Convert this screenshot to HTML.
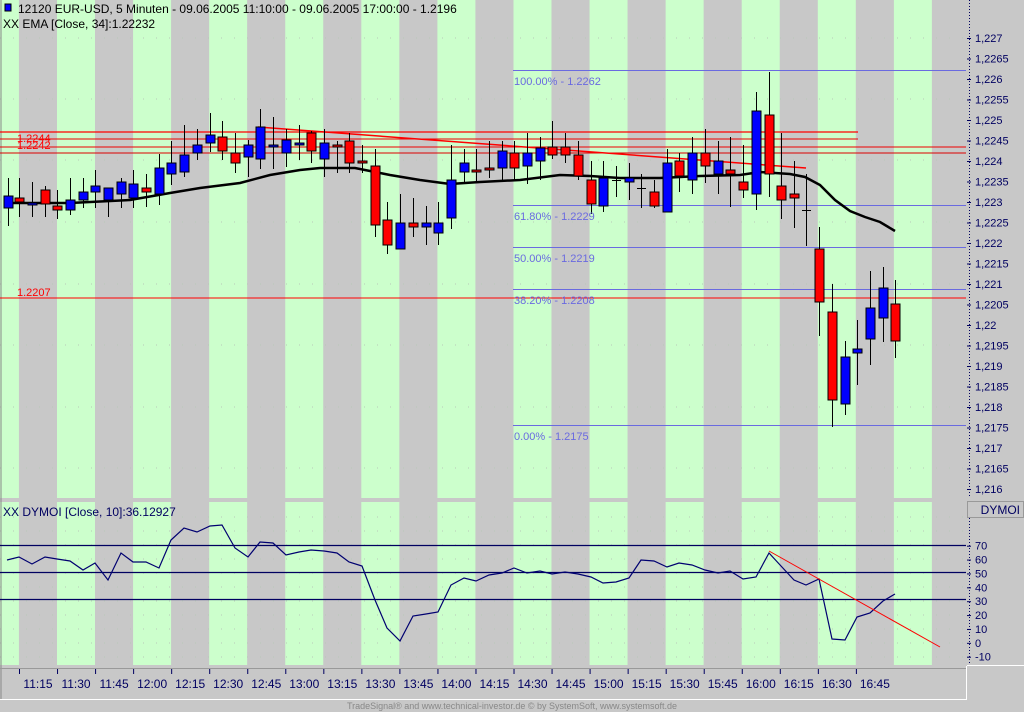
<!DOCTYPE html>
<html><head><meta charset="utf-8"><style>
html,body{margin:0;padding:0;background:#c8c8c8;}
svg{display:block;font-family:"Liberation Sans",sans-serif;}
</style></head><body>
<svg id="s" width="1024" height="712" xmlns="http://www.w3.org/2000/svg">
<rect x="0" y="0" width="1024" height="712" fill="#c8c8c8"/>
<g id="stripes"></g>
<g id="lines"></g>
<g id="cand"></g>
<g id="txt"></g>
</svg>
<script>
const NS="http://www.w3.org/2000/svg";
function el(p,t,a,txt){const e=document.createElementNS(NS,t);for(const k in a)e.setAttribute(k,a[k]);if(txt!==undefined)e.textContent=txt;document.getElementById(p).appendChild(e);return e;}
// stripes
for(let k=-1;k<13;k++){
  let x0=57+76.08*k, x1=x0+38;
  x0=Math.max(0,x0); x1=Math.min(966,x1);
  if(x1<=x0) continue;
  el('stripes','rect',{x:x0,y:0,width:x1-x0,height:498,fill:'#ccffcc'});
  el('stripes','rect',{x:x0,y:502,width:x1-x0,height:163,fill:'#ccffcc'});
}
// dotted grid
for(const y of [38,99,160,222,284,345,407,468]) el('stripes','line',{x1:0,y1:y,x2:966,y2:y,stroke:'#b8c8b8','stroke-dasharray':'1 12'});
for(const y of [517,531,545,559,573,587,601,615,629,643,657]) el('stripes','line',{x1:0,y1:y,x2:966,y2:y,stroke:'#b8c8b8','stroke-dasharray':'1 12'});
// separators
el('lines','rect',{x:0,y:498,width:966,height:4,fill:'#c8c8c8'});
el('lines','line',{x1:1,y1:0,x2:1,y2:700,stroke:'#888'});
// fib lines
const fc='#6a6ae0';
[[70,'100.00% - 1.2262'],[205,'61.80% - 1.2229'],[247,'50.00% - 1.2219'],[289,'38.20% - 1.2208'],[425,'0.00% - 1.2175']].forEach(([y,t])=>{
  el('lines','line',{x1:513,y1:y+.5,x2:966,y2:y+.5,stroke:fc});
  el('txt','text',{x:514,y:y+15,'font-size':11,fill:fc},t);
});
// red lines
el('lines','line',{x1:0,y1:132,x2:858,y2:132,stroke:'#f00','stroke-width':1.3});
el('lines','line',{x1:0,y1:139,x2:858,y2:139,stroke:'#e00'});
el('lines','line',{x1:0,y1:147,x2:966,y2:147,stroke:'#e00'});
el('lines','line',{x1:0,y1:153,x2:966,y2:153,stroke:'#d00'});
el('lines','line',{x1:0,y1:298,x2:966,y2:298,stroke:'#f00'});
el('lines','line',{x1:258,y1:127,x2:806,y2:168,stroke:'#f00','stroke-width':1.5});
el('txt','text',{x:17,y:142,'font-size':11,fill:'#f00'},'1.2244');
el('txt','text',{x:17,y:149,'font-size':11,fill:'#f00'},'1.2242');
el('txt','text',{x:17,y:296,'font-size':11,fill:'#f00'},'1.2207');
// EMA
el('lines','polyline',{points:'8,203 70,203 130,200 170,193 200,188 240,183 270,175 300,170 320,168 355,168 375,172 390,175 420,180 450,184 480,182 520,180 560,175 590,176 620,178 660,178 700,176 740,175 760,172 790,174 805,177 820,185 835,200 850,211 865,217 880,222 895,231',fill:'none',stroke:'#000','stroke-width':2.5});
// candles [x, wickTop, wickBot, bodyTop, bodyBot, color]
const C=[[8,178,226,196,208,'b'],[19,178,217,198,202,'r'],[32,182,217,203,205,'b'],[45,186,217,190,204,'r'],[57,190,219,206,210,'r'],[70,178,215,200,210,'b'],[83,178,208,192,200,'b'],[95,170,208,186,192,'b'],[108,188,217,188,200,'b'],[121,178,208,182,194,'b'],[133,170,208,184,198,'b'],[146,174,207,188,192,'r'],[159,154,205,168,194,'b'],[171,141,185,163,174,'b'],[184,125,177,155,172,'b'],[197,129,160,145,153,'b'],[210,113,152,135,143,'b'],[222,121,160,137,151,'r'],[235,133,173,153,163,'r'],[248,140,177,145,157,'b'],
[260,109,169,127,159,'b'],[273,117,169,145,147,'b'],[286,129,167,140,153,'b'],[299,125,160,143,145,'b'],[311,131,163,133,151,'r'],[324,129,177,143,159,'b'],[337,141,173,145,147,'r'],[349,133,173,141,163,'r'],[362,145,173,161,163,'r'],[375,149,237,166,225,'r'],[387,202,254,220,245,'r'],[400,194,249,223,249,'b'],[413,198,237,223,227,'r'],[426,206,245,223,227,'b'],[438,202,245,223,233,'b'],[451,145,229,180,218,'b'],[464,149,183,163,172,'b'],[476,149,182,170,172,'r'],[489,141,178,168,170,'r'],
[502,141,181,151,168,'b'],[514,141,181,153,168,'r'],[527,133,184,153,166,'b'],[540,137,180,148,161,'b'],[552,121,159,147,155,'r'],[565,133,163,147,155,'r'],[578,141,180,155,176,'r'],[591,161,214,180,204,'r'],[603,161,212,178,206,'b'],[616,166,197,180,180,'d'],[629,163,200,178,182,'b'],[641,174,208,188,188,'d'],[654,180,208,192,206,'r'],[667,149,212,163,212,'b'],[679,153,192,161,176,'r'],[692,137,194,153,180,'b'],[705,129,183,153,166,'r'],[718,141,194,161,174,'b'],
[730,137,207,170,174,'r'],[743,145,198,182,190,'r'],[756,92,210,111,194,'b'],[769,72,197,115,174,'r'],[781,133,219,186,200,'r'],[794,161,228,194,198,'r'],[806,174,246,210,210,'d'],[819,227,336,249,302,'r'],[832,284,427,312,400,'r'],[845,341,415,357,404,'b'],[857,320,385,349,353,'b'],[870,271,365,308,339,'b'],[883,267,342,288,318,'b'],[895,280,358,304,341,'r']];
C.forEach(([x,wt,wb,bt,bb,c])=>{
  el('cand','line',{x1:x+.5,y1:wt,x2:x+.5,y2:wb,stroke:'#000','stroke-width':1});
  if(c==='d'){el('cand','line',{x1:x-4,y1:bt+.5,x2:x+5,y2:bt+.5,stroke:'#000','stroke-width':1});return;}
  el('cand','rect',{x:x-4,y:bt,width:9,height:Math.max(2,bb-bt),fill:c==='b'?'#0000ff':'#ff0000',stroke:'#000','stroke-width':1});
});
// DYMOI
[545,572,599].forEach(y=>el('lines','line',{x1:0,y1:y+.5,x2:966,y2:y+.5,stroke:'#000060','stroke-width':1.2}));
const D=[[7,560],[19,557],[32,564],[45,557],[57,559],[70,561],[83,570],[95,563],[108,580],[121,553],[133,562],[146,562],[159,568],[171,540],[184,528],[197,532],[210,526],[222,525],[235,548],[248,557],[260,542],[273,543],[286,555],[299,552],[311,550],[324,551],[337,553],[349,562],[362,566],[375,600],[387,628],[400,641],[413,616],[426,614],[438,612],[451,585],[464,578],[476,581],[489,575],[502,573],[514,568],[527,573],[540,571],[552,574],[565,572],[578,574],[591,577],[603,583],[616,582],[629,578],[641,560],[654,561],[667,567],[679,563],[692,565],[705,570],[718,573],[730,571],[743,579],[756,577],[769,553],[781,566],[794,580],[806,585],[819,579],[832,639],[845,640],[857,617],[870,613],[883,601],[895,594]];
el('lines','polyline',{points:D.map(p=>p.join(',')).join(' '),fill:'none',stroke:'#000070','stroke-width':1.2});
el('lines','line',{x1:769,y1:551,x2:940,y2:647,stroke:'#f00','stroke-width':1});
// time axis
el('lines','line',{x1:0,y1:668.5,x2:966,y2:668.5,stroke:'#999'});
el('lines','line',{x1:0,y1:699.5,x2:967,y2:699.5,stroke:'#fff'});
el('lines','line',{x1:966.5,y1:666,x2:966.5,y2:700,stroke:'#fff'});
const T=['11:15','11:30','11:45','12:00','12:15','12:30','12:45','13:00','13:15','13:30','13:45','14:00','14:15','14:30','14:45','15:00','15:15','15:30','15:45','16:00','16:15','16:30','16:45'];
T.forEach((t,i)=>{
  const x=19+38.04*i;
  el('lines','line',{x1:x+.5,y1:669,x2:x+.5,y2:674,stroke:'#000060'});
  el('txt','text',{x:x+19,y:688,'font-size':12,fill:'#000060','text-anchor':'middle'},t);
});
// right axis
el('lines','line',{x1:969.5,y1:0,x2:969.5,y2:498,stroke:'#000060','stroke-dasharray':'1 2'});
el('lines','line',{x1:969.5,y1:518,x2:969.5,y2:665,stroke:'#000060','stroke-dasharray':'1 2'});
el('lines','rect',{x:967.5,y:501.5,width:56,height:16,fill:'none',stroke:'#999'});
el('lines','line',{x1:967,y1:665.5,x2:1024,y2:665.5,stroke:'#fff'});
el('txt','text',{x:1020,y:514,'font-size':12,fill:'#000060','text-anchor':'end'},'DYMOI');
const labs=['1,227','1,2265','1,226','1,2255','1,225','1,2245','1,224','1,2235','1,223','1,2225','1,222','1,2215','1,221','1,2205','1,22','1,2195','1,219','1,2185','1,218','1,2175','1,217','1,2165','1,216'];
labs.forEach((t,i)=>{const y=38+20.5*i;
  el('lines','line',{x1:967,y1:y+.5,x2:971,y2:y+.5,stroke:'#000060'});
  el('txt','text',{x:975,y:y+4,'font-size':11,fill:'#000060'},t);});
[70,60,50,40,30,20,10,0,-10].forEach(v=>{const y=545.7+(70-v)*1.3875;
  el('lines','line',{x1:967,y1:y+.5,x2:971,y2:y+.5,stroke:'#000060'});
  el('txt','text',{x:975,y:y+4,'font-size':11,fill:'#000060'},String(v));});
// headers
el('txt','rect',{x:5,y:4,width:6,height:7,fill:'#0000ff',stroke:'#000'});
el('txt','text',{x:18,y:13,'font-size':12,fill:'#000'},'12120  EUR-USD, 5 Minuten - 09.06.2005 11:10:00 - 09.06.2005 17:00:00 - 1.2196');
el('txt','text',{x:3,y:28,'font-size':12,fill:'#000'},'XX EMA [Close, 34]:1.22232');
el('txt','text',{x:3,y:516,'font-size':12,fill:'#000060'},'XX DYMOI [Close, 10]:36.12927');
el('txt','text',{x:512,y:709,'font-size':9,fill:'#888','text-anchor':'middle'},'TradeSignal® and www.technical-investor.de © by SystemSoft, www.systemsoft.de');
</script>
</body></html>
